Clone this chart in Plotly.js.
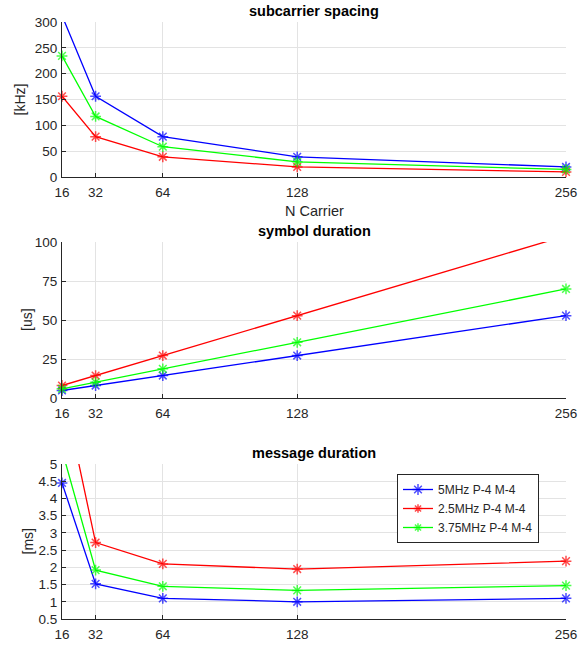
<!DOCTYPE html>
<html><head><meta charset="utf-8">
<script src="https://cdn.plot.ly/plotly-3.0.1.min.js"></script>
<style>html,body{margin:0;padding:0;background:#fff}#chart{width:587px;height:645px}</style>
</head><body><div id="chart"></div>
<script>
// Data
const nCarrier = [16, 32, 64, 128, 256];
const seriesNames = ['5MHz P-4 M-4', '2.5MHz P-4 M-4', '3.75MHz P-4 M-4'];
const seriesColors = ['#0000ff', '#ff0000', '#00ff00'];

// subcarrier spacing [kHz]
const spacing5 = [312.5, 156.3, 78.1, 39.1, 19.5];
const spacing25 = [156.3, 78.1, 39.1, 19.5, 9.8];
const spacing375 = [234.4, 117.2, 58.6, 29.3, 14.6];

// symbol duration [us]
const symbol5 = [4.8, 8.0, 14.4, 27.2, 52.8];
const symbol25 = [8.0, 14.4, 27.2, 52.8, 104.0];
const symbol375 = [5.9, 10.1, 18.7, 35.7, 69.9];

// message duration [ms]
const message5 = [4.45, 1.52, 1.10, 1.00, 1.10];
const message25 = [7.3, 2.72, 2.10, 1.95, 2.18];
const message375 = [5.4, 1.92, 1.45, 1.33, 1.47];

const xTicks = ['16', '32', '64', '128', '256'];

const W = 587, H = 645;
const px = v => v / W;
const py = v => 1 - v / H;

const plotL = 62, plotR = 566;
const panels = [
  {top: 22, bot: 177, range: [0, 300], dtick: 50, data: [spacing5, spacing25, spacing375], title: 'subcarrier spacing', ylab: '[kHz]', ylabX: 20},
  {top: 242, bot: 398, range: [0, 100], dtick: 25, data: [symbol5, symbol25, symbol375], title: 'symbol duration', ylab: '[us]', ylabX: 27},
  {top: 464, bot: 619, range: [0.5, 5], dtick: 0.5, data: [message5, message25, message375], title: 'message duration', ylab: '[ms]', ylabX: 27}
];

const font = 'Liberation Sans, Arial, Helvetica, sans-serif';
const txt = '#262626';
const traces = [];
const layout = {
  width: W, height: H,
  margin: {l: 0, r: 0, t: 0, b: 0},
  paper_bgcolor: '#fff', plot_bgcolor: '#fff',
  font: {family: font, size: 13, color: txt},
  showlegend: true,
  legend: {
    x: px(397), y: py(474), xanchor: 'left', yanchor: 'top',
    bgcolor: '#fff', bordercolor: txt, borderwidth: 1,
    font: {family: font, size: 12, color: txt},
    tracegroupgap: 0
  },
  annotations: []
};

panels.forEach((p, i) => {
  const ax = i === 0 ? '' : String(i + 1);
  layout['xaxis' + ax] = {
    domain: [px(plotL), px(plotR)],
    anchor: 'y' + ax,
    range: [16, 256],
    tickmode: 'array', tickvals: nCarrier, ticktext: xTicks,
    ticks: 'inside', ticklen: 4, tickwidth: 1, tickcolor: txt,
    ticklabelstandoff: 3,
    showline: true, linecolor: txt, linewidth: 1,
    showgrid: true, gridcolor: '#e3e3e3', gridwidth: 1,
    zeroline: false, mirror: false,
    tickfont: {family: font, size: 13.5, color: txt}
  };
  layout['yaxis' + ax] = {
    domain: [py(p.bot), py(p.top)],
    anchor: 'x' + ax,
    range: p.range,
    dtick: p.dtick, tick0: 0,
    ticks: 'inside', ticklen: 4, tickwidth: 1, tickcolor: txt,
    ticklabelstandoff: 1,
    showline: true, linecolor: txt, linewidth: 1,
    showgrid: true, gridcolor: '#e3e3e3', gridwidth: 1,
    zeroline: false, mirror: false,
    tickfont: {family: font, size: 13.5, color: txt}
  };
  layout.annotations.push({
    text: '<b>' + p.title + '</b>', xref: 'paper', yref: 'paper',
    x: px((plotL + plotR) / 2), y: py(p.top - 11), xanchor: 'center', yanchor: 'middle',
    showarrow: false, font: {family: font, size: 14.5, color: '#000'}
  });
  layout.annotations.push({
    text: p.ylab, xref: 'paper', yref: 'paper', textangle: -90,
    x: px(p.ylabX), y: py((p.top + p.bot) / 2), xanchor: 'center', yanchor: 'middle',
    showarrow: false, font: {family: font, size: 14, color: txt}
  });
  p.data.forEach((vals, k) => {
    const sizes = vals.map(v => (v >= p.range[0] && v <= p.range[1]) ? 9 : 0);
    traces.push({
      type: 'scatter', mode: 'lines+markers',
      x: nCarrier, y: vals,
      xaxis: 'x' + ax, yaxis: 'y' + ax,
      name: seriesNames[k],
      showlegend: i === 2,
      cliponaxis: false,
      line: {color: seriesColors[k], width: 1.3},
      marker: {symbol: 'asterisk-open', size: sizes, color: seriesColors[k], line: {color: seriesColors[k], width: 1.5}}
    });
  });
});

layout.annotations.push({
  text: 'N Carrier', xref: 'paper', yref: 'paper',
  x: px((plotL + plotR) / 2), y: py(211), xanchor: 'center', yanchor: 'middle',
  showarrow: false, font: {family: font, size: 14.5, color: txt}
});

Plotly.newPlot('chart', traces, layout, {displayModeBar: false, staticPlot: true});
</script>
</body></html>
